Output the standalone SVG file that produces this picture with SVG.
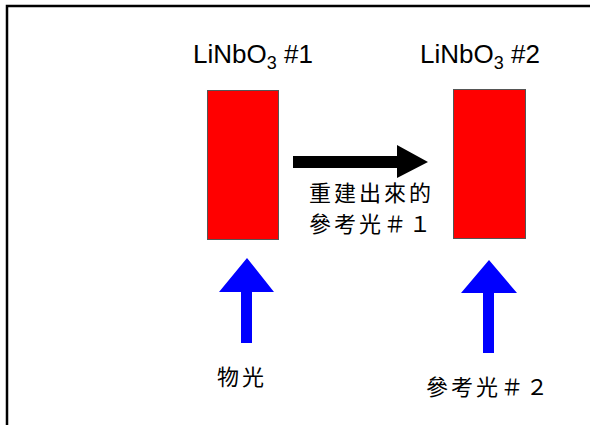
<svg xmlns="http://www.w3.org/2000/svg" width="590" height="425" viewBox="0 0 590 425">
<style>
.crystal{fill:#ff0000;stroke:#555555;stroke-width:1}
.lbl{font-family:"Liberation Sans",Arial,sans-serif;font-size:26px;fill:#000}
.cjk{font-family:"Noto Sans CJK TC","Noto Sans CJK SC",sans-serif;font-size:22px;letter-spacing:3px;fill:#000}
.blue{fill:#0000ff}
.black{fill:#000000}
</style>
<rect width="590" height="425" fill="#ffffff"/>
<path d="M7,425 V6 H590" fill="none" stroke="#000" stroke-width="2.5"/>
<g id="crystal1">
<rect class="crystal" x="207.5" y="90.5" width="71" height="149"/>
<text class="lbl" x="193" y="63">LiNbO<tspan font-size="18" dy="6">3</tspan><tspan dy="-6"> #1</tspan></text>
</g>
<g id="crystal2">
<rect class="crystal" x="453.5" y="89.5" width="72" height="149"/>
<text class="lbl" x="420" y="63">LiNbO<tspan font-size="18" dy="6">3</tspan><tspan dy="-6"> #2</tspan></text>
</g>
<g id="connectors">
<polygon class="black" points="293,156 397,156 397,145 428,162 397,178 397,168 293,168"/>
<polygon class="blue" points="247,258 274,292 252,292 252,343 241,343 241,292 219,292"/>
<polygon class="blue" points="489,260 517,293 494,293 494,353 483,353 483,293 461,293"/>
</g>
<g id="label-reconstructed">
<text class="cjk" x="309" y="201">重建出來的</text>
<text class="cjk" x="309" y="232">參考光＃１</text>
</g>
<g id="label-object">
<text class="cjk" x="217" y="385">物光</text>
</g>
<g id="label-reference2">
<text class="cjk" x="426" y="395">參考光＃２</text>
</g>
</svg>
